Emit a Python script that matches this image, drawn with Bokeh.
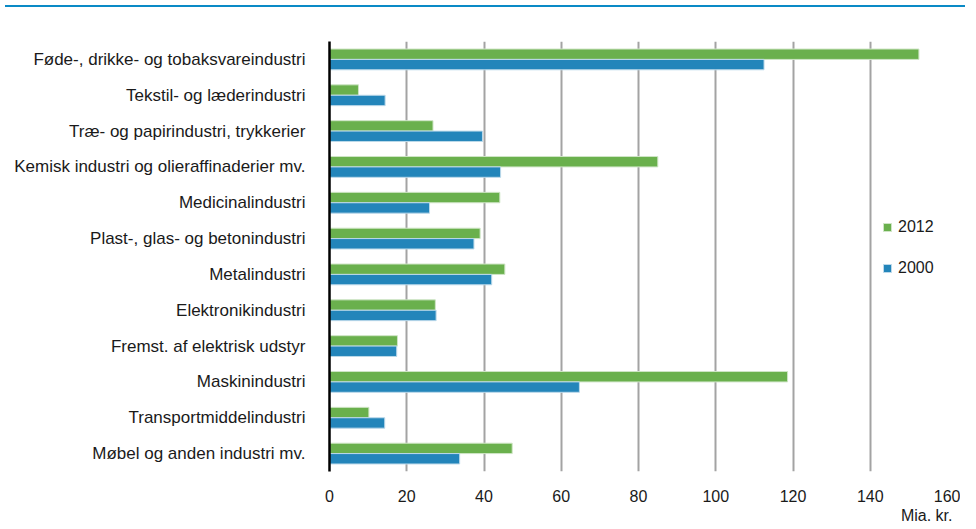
from bokeh.plotting import figure
from bokeh.models import (FactorRange, Range1d, FixedTicker, Legend, LegendItem,
                          Title, Div, ColumnDataSource)
from bokeh.layouts import column
from bokeh.transform import dodge
from bokeh.embed import file_html
from bokeh.resources import INLINE

categories = [
    "Føde-, drikke- og tobaksvareindustri",
    "Tekstil- og læderindustri",
    "Træ- og papirindustri, trykkerier",
    "Kemisk industri og olieraffinaderier mv.",
    "Medicinalindustri",
    "Plast-, glas- og betonindustri",
    "Metalindustri",
    "Elektronikindustri",
    "Fremst. af elektrisk udstyr",
    "Maskinindustri",
    "Transportmiddelindustri",
    "Møbel og anden industri mv.",
]
values_2012 = [152.6, 7.5, 26.8, 85.0, 44.1, 39.0, 45.4, 27.4, 17.6, 118.6, 10.2, 47.3]
values_2000 = [112.5, 14.4, 39.6, 44.3, 25.9, 37.4, 42.0, 27.6, 17.4, 64.7, 14.3, 33.7]
x_ticks = [0, 20, 40, 60, 80, 100, 120, 140, 160]
series_names = ["2012", "2000"]
unit_label = "Mia. kr."

GREEN = "#6ab04d"
BLUE = "#2385ba"
FONT = "Liberation Sans"

src = ColumnDataSource(dict(cat=categories, v12=values_2012, v00=values_2000))

p = figure(
    width=960, height=511,
    y_range=FactorRange(factors=list(reversed(categories)), range_padding=0),
    x_range=Range1d(0, 160),
    output_backend="svg", toolbar_location=None,
    min_border_left=329, min_border_right=13, min_border_top=29, min_border_bottom=51,
)
p.outline_line_color = None
p.background_fill_color = "white"

r12 = p.hbar(y=dodge("cat", 0.145, range=p.y_range), right="v12", left=0, height=0.29,
             source=src, fill_color=GREEN, line_color="#cfe5c6", line_width=1)
r00 = p.hbar(y=dodge("cat", -0.145, range=p.y_range), right="v00", left=0, height=0.29,
             source=src, fill_color=BLUE, line_color="#bcd9ea", line_width=1)

p.xgrid.ticker = FixedTicker(ticks=x_ticks)
p.xgrid.grid_line_color = "#a3a3a3"
p.xgrid.grid_line_width = 2
p.ygrid.grid_line_color = None

p.xaxis.ticker = FixedTicker(ticks=x_ticks)
p.xaxis.axis_line_color = None
p.xaxis.major_tick_line_color = None
p.xaxis.minor_tick_line_color = None
p.xaxis.major_label_text_font = FONT
p.xaxis.major_label_text_font_size = "16px"
p.xaxis.major_label_text_color = "#1a1a1a"
p.xaxis.major_label_standoff = 12

p.yaxis.axis_line_color = "black"
p.yaxis.axis_line_width = 2.5
p.yaxis.major_tick_line_color = None
p.yaxis.minor_tick_line_color = None
p.yaxis.major_label_text_font = FONT
p.yaxis.major_label_text_font_size = "17px"
p.yaxis.major_label_text_color = "#1a1a1a"
p.yaxis.major_label_standoff = 18

legend = Legend(
    items=[LegendItem(label=series_names[0], renderers=[r12]),
           LegendItem(label=series_names[1], renderers=[r00])],
    location=(553, 193),
    glyph_width=10, glyph_height=10, label_height=20, spacing=21,
    label_standoff=6, padding=0, margin=0,
    border_line_color=None, background_fill_alpha=0,
    label_text_font=FONT, label_text_font_size="16px", label_text_color="#1a1a1a",
)
p.add_layout(legend)

unit_title = Title(text=unit_label, align="right", offset=-5, standoff=0,
                   text_font=FONT, text_font_size="16px", text_font_style="normal",
                   text_color="#1a1a1a")
p.add_layout(unit_title, "below")

top_line = Div(width=960, height=2, styles={"background-color": "#0a8ac6"})
layout = column(top_line, p, spacing=0)

open("out.html", "w").write(file_html(layout, INLINE))
